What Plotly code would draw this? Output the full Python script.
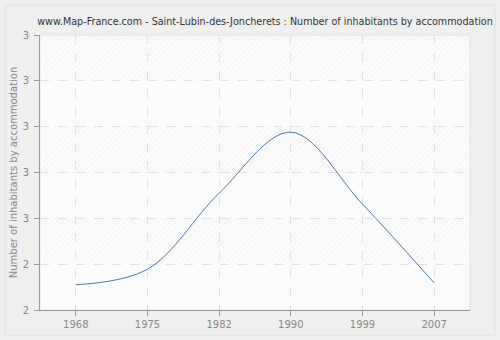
import plotly.graph_objects as go

years = ["1968", "1975", "1982", "1990", "1999", "2007"]
values = [2.455, 2.489, 2.655, 2.788, 2.631, 2.459]
ytick_vals = [2.4, 2.5, 2.6, 2.7, 2.8, 2.9, 3.0]
ytick_text = ["2", "2", "3", "3", "3", "3", "3"]

fig = go.Figure()

# hatched background bands (bars on a hidden base axis, below the line)
for i in range(len(ytick_vals) - 1):
    if i % 2 == 0:
        continue
    lo, hi = ytick_vals[i], ytick_vals[i + 1]
    fig.add_trace(go.Bar(
        x=[0.5], y=[hi - lo], base=[lo], width=[1.0], xaxis="x", yaxis="y",
        marker=dict(color="rgba(255,255,255,0)", line_width=0,
                    pattern=dict(shape="/", fgcolor="#e9e9e9", bgcolor="rgba(255,255,255,0)",
                                 size=4, solidity=0.25)),
        hoverinfo="skip", showlegend=False))

fig.add_trace(go.Scatter(
    x=years, y=values, mode="lines", xaxis="x2", yaxis="y",
    line=dict(color="#4a78ab", width=1, shape="spline", smoothing=1.0),
    hoverinfo="skip", showlegend=False))

fig.update_layout(
    width=500, height=340,
    margin=dict(l=40, r=30, t=35, b=30, autoexpand=False),
    paper_bgcolor="#efefef",
    plot_bgcolor="#fbfbfb",
    barmode="overlay",
    bargap=0,
    title=dict(text="www.Map-France.com - Saint-Lubin-des-Joncherets : Number of inhabitants by accommodation",
               x=265 / 500, xref="container", xanchor="center", y=0.935, yanchor="middle",
               font=dict(family="DejaVu Sans", size=9.6, color="#333333")),
    font=dict(family="DejaVu Sans", size=10, color="#888888"),
    xaxis=dict(range=[0, 1], visible=False, fixedrange=True, showgrid=False,
               zeroline=False, automargin=False),
    xaxis2=dict(
        overlaying="x", anchor="y", side="bottom",
        type="category", range=[-0.5, 5.5], automargin=False,
        showline=True, linecolor="#999999", linewidth=1,
        ticks="outside", ticklen=5, tickcolor="#999999",
        showgrid=True, gridcolor="#e0e0e0", griddash="dash", gridwidth=1,
        tickfont=dict(family="DejaVu Sans", size=10, color="#888888"),
        zeroline=False,
    ),
    yaxis=dict(
        range=[2.4, 3.0], tickvals=ytick_vals, ticktext=ytick_text,
        automargin=False,
        showline=True, linecolor="#999999", linewidth=1,
        ticks="outside", ticklen=5, tickcolor="#999999",
        ticklabelstandoff=3,
        showgrid=True, gridcolor="#e0e0e0", griddash="dash", gridwidth=1,
        tickfont=dict(family="DejaVu Sans", size=10, color="#888888"),
        title=dict(text="Number of inhabitants by accommodation", standoff=3,
                   font=dict(family="DejaVu Sans", size=10, color="#888888")),
        zeroline=False,
    ),
)

# frame around plot area
fig.add_shape(type="rect", xref="paper", yref="paper", x0=0, x1=1, y0=0, y1=1,
              line=dict(color="#e2e2e2", width=1), layer="below")
# outer frame
fig.add_shape(type="rect", xref="paper", yref="paper",
              x0=-35 / 430, x1=1 + 25 / 430, y0=-25 / 275, y1=1 + 30 / 275,
              line=dict(color="#e0e0e0", width=1), layer="below")

fig.write_html("out.html")
